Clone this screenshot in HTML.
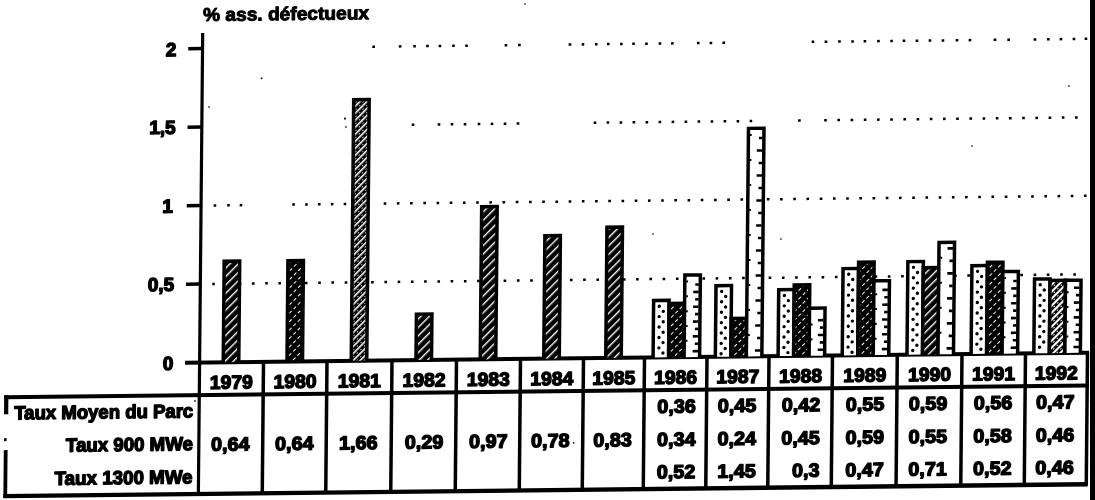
<!DOCTYPE html>
<html><head><meta charset="utf-8"><title>% ass. défectueux</title>
<style>html,body{margin:0;padding:0;background:#fff;overflow:hidden}svg{display:block;filter:grayscale(1)}text{-webkit-font-smoothing:antialiased;text-rendering:geometricPrecision}</style></head>
<body>
<svg width="1095" height="500" viewBox="0 0 1095 500">
<defs>
<pattern id="hM" patternUnits="userSpaceOnUse" width="6" height="6" patternTransform="rotate(-45)">
<rect width="6" height="6" fill="#000"/><rect x="0" y="0" width="6" height="1.4" fill="#fff"/>
</pattern>
<pattern id="hD" patternUnits="userSpaceOnUse" width="6" height="6" patternTransform="rotate(-45)">
<rect width="6" height="6" fill="#000"/><rect x="0" y="0" width="3.5" height="1" fill="#fff"/>
</pattern>
<pattern id="hL2" patternUnits="userSpaceOnUse" width="5" height="5" patternTransform="rotate(-45)">
<rect width="5" height="5" fill="#000"/><rect x="0" y="0" width="5" height="1.6" fill="#fff"/><rect x="1" y="3" width="1.5" height="0.8" fill="#fff"/>
</pattern>
<pattern id="hL" patternUnits="userSpaceOnUse" width="5" height="5" patternTransform="rotate(-45)">
<rect width="5" height="5" fill="#000"/><rect x="0" y="0" width="5" height="2.1" fill="#fff"/><rect x="1" y="3" width="1.5" height="1" fill="#fff"/>
</pattern>
<pattern id="dotsA" patternUnits="userSpaceOnUse" width="8" height="8">
<rect width="8" height="8" fill="#fff"/><circle cx="2" cy="2.5" r="1.3" fill="#000"/><circle cx="6" cy="6.5" r="1.3" fill="#000"/>
</pattern>
<pattern id="dashC" patternUnits="userSpaceOnUse" width="40" height="12">
<rect width="40" height="12" fill="#fff"/>
</pattern>
</defs>
<rect width="1095" height="500" fill="#fff"/>
<g transform="matrix(1 -0.011 -0.0094 1 3.403 2.200)" font-family="'Liberation Sans', Arial, sans-serif" font-weight="bold" fill="#000" stroke-linejoin="round">
<text x="199.80" y="21.00" font-size="18.5" text-anchor="start" textLength="166.0" lengthAdjust="spacingAndGlyphs" stroke="#000" stroke-width="1.0">% ass. défectueux</text>
<text x="173.50" y="55.80" font-size="19" text-anchor="end" stroke="#000" stroke-width="1.4">2</text>
<text x="173.50" y="133.50" font-size="19" text-anchor="end" stroke="#000" stroke-width="1.4">1,5</text>
<text x="171.50" y="212.40" font-size="19" text-anchor="end" stroke="#000" stroke-width="1.4">1</text>
<text x="173.50" y="290.60" font-size="19" text-anchor="end" stroke="#000" stroke-width="1.4">0,5</text>
<text x="173.50" y="369.70" font-size="19" text-anchor="end" stroke="#000" stroke-width="1.4">0</text>
<rect x="185.30" y="46.75" width="14.00" height="3.50" fill="#000" stroke="none" />
<rect x="185.30" y="125.25" width="14.00" height="3.50" fill="#000" stroke="none" />
<rect x="185.30" y="203.75" width="14.00" height="3.50" fill="#000" stroke="none" />
<rect x="185.30" y="282.25" width="14.00" height="3.50" fill="#000" stroke="none" />
<rect x="198.00" y="33.00" width="3.20" height="462.00" fill="#000" stroke="none" />
<rect x="185.00" y="360.50" width="904.00" height="4.00" fill="#000" stroke="none" />
<rect x="4.50" y="393.20" width="1084.50" height="4.00" fill="#000" stroke="none" />
<rect x="4.50" y="491.80" width="1084.50" height="4.40" fill="#000" stroke="none" />
<rect x="4.50" y="393.20" width="4.20" height="19.00" fill="#000" stroke="none" />
<rect x="4.80" y="436.00" width="2.50" height="3.00" fill="#000" stroke="none" />
<rect x="4.60" y="448.00" width="3.80" height="47.50" fill="#000" stroke="none" />
<rect x="261.75" y="362.00" width="3.50" height="133.00" fill="#000" stroke="none" />
<rect x="325.25" y="362.00" width="3.50" height="133.00" fill="#000" stroke="none" />
<rect x="390.25" y="362.00" width="3.50" height="133.00" fill="#000" stroke="none" />
<rect x="454.75" y="362.00" width="3.50" height="133.00" fill="#000" stroke="none" />
<rect x="518.75" y="362.00" width="3.50" height="133.00" fill="#000" stroke="none" />
<rect x="581.75" y="362.00" width="3.50" height="133.00" fill="#000" stroke="none" />
<rect x="642.75" y="362.00" width="3.50" height="133.00" fill="#000" stroke="none" />
<rect x="705.25" y="362.00" width="3.50" height="133.00" fill="#000" stroke="none" />
<rect x="767.25" y="362.00" width="3.50" height="133.00" fill="#000" stroke="none" />
<rect x="830.75" y="362.00" width="3.50" height="133.00" fill="#000" stroke="none" />
<rect x="895.55" y="362.00" width="3.50" height="133.00" fill="#000" stroke="none" />
<rect x="960.25" y="362.00" width="3.50" height="133.00" fill="#000" stroke="none" />
<rect x="1023.75" y="362.00" width="3.50" height="133.00" fill="#000" stroke="none" />
<rect x="1085.75" y="362.00" width="3.50" height="133.00" fill="#000" stroke="none" />
<g fill="#000"><rect x="369.4" y="47.3" width="2.6" height="2.5"/><rect x="395.9" y="47.3" width="2.6" height="2.5"/><rect x="410.3" y="47.3" width="2.6" height="2.5"/><rect x="423.2" y="47.3" width="2.6" height="2.5"/><rect x="435.7" y="47.3" width="2.6" height="2.5"/><rect x="449.2" y="47.3" width="2.6" height="2.5"/><rect x="462.3" y="47.3" width="2.6" height="2.5"/><rect x="501.7" y="47.3" width="2.6" height="2.5"/><rect x="515.2" y="47.3" width="2.6" height="2.5"/><rect x="565.7" y="47.3" width="2.6" height="2.5"/><rect x="578.7" y="47.3" width="2.6" height="2.5"/><rect x="592.0" y="47.3" width="2.6" height="2.5"/><rect x="604.0" y="47.3" width="2.6" height="2.5"/><rect x="617.1" y="47.3" width="2.6" height="2.5"/><rect x="629.3" y="47.3" width="2.6" height="2.5"/><rect x="642.2" y="47.3" width="2.6" height="2.5"/><rect x="655.7" y="47.3" width="2.6" height="2.5"/><rect x="668.1" y="47.3" width="2.6" height="2.5"/><rect x="694.0" y="47.3" width="2.6" height="2.5"/><rect x="706.7" y="47.3" width="2.6" height="2.5"/><rect x="719.5" y="47.3" width="2.6" height="2.5"/><rect x="808.7" y="47.3" width="2.6" height="2.5"/><rect x="821.7" y="47.3" width="2.6" height="2.5"/><rect x="835.2" y="47.3" width="2.6" height="2.5"/><rect x="848.3" y="47.3" width="2.6" height="2.5"/><rect x="860.7" y="47.3" width="2.6" height="2.5"/><rect x="874.2" y="47.3" width="2.6" height="2.5"/><rect x="887.3" y="47.3" width="2.6" height="2.5"/><rect x="899.7" y="47.3" width="2.6" height="2.5"/><rect x="912.7" y="47.3" width="2.6" height="2.5"/><rect x="925.7" y="47.3" width="2.6" height="2.5"/><rect x="938.7" y="47.3" width="2.6" height="2.5"/><rect x="952.7" y="47.3" width="2.6" height="2.5"/><rect x="965.7" y="47.3" width="2.6" height="2.5"/><rect x="990.7" y="47.3" width="2.6" height="2.5"/><rect x="1004.4" y="47.3" width="2.6" height="2.5"/><rect x="1030.7" y="47.3" width="2.6" height="2.5"/><rect x="1044.1" y="47.3" width="2.6" height="2.5"/><rect x="1056.7" y="47.3" width="2.6" height="2.5"/><rect x="1069.7" y="47.3" width="2.6" height="2.5"/><rect x="1081.7" y="47.3" width="2.6" height="2.5"/></g>
<g fill="#000"><rect x="409.5" y="125.8" width="2.6" height="2.5"/><rect x="435.5" y="125.8" width="2.6" height="2.5"/><rect x="448.5" y="125.8" width="2.6" height="2.5"/><rect x="461.5" y="125.8" width="2.6" height="2.5"/><rect x="475.5" y="125.8" width="2.6" height="2.5"/><rect x="488.5" y="125.8" width="2.6" height="2.5"/><rect x="501.5" y="125.8" width="2.6" height="2.5"/><rect x="514.5" y="125.8" width="2.6" height="2.5"/><rect x="591.5" y="125.8" width="2.6" height="2.5"/><rect x="604.4" y="125.8" width="2.6" height="2.5"/><rect x="617.4" y="125.8" width="2.6" height="2.5"/><rect x="630.4" y="125.8" width="2.6" height="2.5"/><rect x="643.4" y="125.8" width="2.6" height="2.5"/><rect x="656.4" y="125.8" width="2.6" height="2.5"/><rect x="669.4" y="125.8" width="2.6" height="2.5"/><rect x="682.4" y="125.8" width="2.6" height="2.5"/><rect x="695.4" y="125.8" width="2.6" height="2.5"/><rect x="708.4" y="125.8" width="2.6" height="2.5"/><rect x="721.4" y="125.8" width="2.6" height="2.5"/><rect x="734.4" y="125.8" width="2.6" height="2.5"/><rect x="747.4" y="125.8" width="2.6" height="2.5"/><rect x="795.9" y="125.8" width="2.6" height="2.5"/><rect x="822.0" y="125.8" width="2.6" height="2.5"/><rect x="835.2" y="125.8" width="2.6" height="2.5"/><rect x="848.4" y="125.8" width="2.6" height="2.5"/><rect x="861.6" y="125.8" width="2.6" height="2.5"/><rect x="874.8" y="125.8" width="2.6" height="2.5"/><rect x="888.0" y="125.8" width="2.6" height="2.5"/><rect x="901.2" y="125.8" width="2.6" height="2.5"/><rect x="914.4" y="125.8" width="2.6" height="2.5"/><rect x="927.6" y="125.8" width="2.6" height="2.5"/><rect x="940.8" y="125.8" width="2.6" height="2.5"/><rect x="954.0" y="125.8" width="2.6" height="2.5"/><rect x="967.2" y="125.8" width="2.6" height="2.5"/><rect x="980.4" y="125.8" width="2.6" height="2.5"/><rect x="993.6" y="125.8" width="2.6" height="2.5"/><rect x="1006.8" y="125.8" width="2.6" height="2.5"/><rect x="1020.0" y="125.8" width="2.6" height="2.5"/><rect x="1033.2" y="125.8" width="2.6" height="2.5"/><rect x="1046.4" y="125.8" width="2.6" height="2.5"/><rect x="1059.6" y="125.8" width="2.6" height="2.5"/><rect x="1072.8" y="125.8" width="2.6" height="2.5"/></g>
<g fill="#000"><rect x="212.2" y="204.3" width="2.6" height="2.5"/><rect x="225.7" y="204.3" width="2.6" height="2.5"/><rect x="238.2" y="204.3" width="2.6" height="2.5"/><rect x="290.8" y="204.3" width="2.6" height="2.5"/><rect x="303.7" y="204.3" width="2.6" height="2.5"/><rect x="316.5" y="204.3" width="2.6" height="2.5"/><rect x="329.4" y="204.3" width="2.6" height="2.5"/><rect x="342.2" y="204.3" width="2.6" height="2.5"/><rect x="382.2" y="204.3" width="2.6" height="2.5"/><rect x="395.4" y="204.3" width="2.6" height="2.5"/><rect x="408.6" y="204.3" width="2.6" height="2.5"/><rect x="421.9" y="204.3" width="2.6" height="2.5"/><rect x="435.1" y="204.3" width="2.6" height="2.5"/><rect x="448.3" y="204.3" width="2.6" height="2.5"/><rect x="461.5" y="204.3" width="2.6" height="2.5"/><rect x="474.7" y="204.3" width="2.6" height="2.5"/><rect x="487.9" y="204.3" width="2.6" height="2.5"/><rect x="501.1" y="204.3" width="2.6" height="2.5"/><rect x="514.3" y="204.3" width="2.6" height="2.5"/><rect x="527.6" y="204.3" width="2.6" height="2.5"/><rect x="540.8" y="204.3" width="2.6" height="2.5"/><rect x="554.0" y="204.3" width="2.6" height="2.5"/><rect x="567.2" y="204.3" width="2.6" height="2.5"/><rect x="580.4" y="204.3" width="2.6" height="2.5"/><rect x="593.6" y="204.3" width="2.6" height="2.5"/><rect x="606.8" y="204.3" width="2.6" height="2.5"/><rect x="620.1" y="204.3" width="2.6" height="2.5"/><rect x="633.3" y="204.3" width="2.6" height="2.5"/><rect x="646.5" y="204.3" width="2.6" height="2.5"/><rect x="659.7" y="204.3" width="2.6" height="2.5"/><rect x="672.9" y="204.3" width="2.6" height="2.5"/><rect x="686.1" y="204.3" width="2.6" height="2.5"/><rect x="699.3" y="204.3" width="2.6" height="2.5"/><rect x="712.6" y="204.3" width="2.6" height="2.5"/><rect x="725.8" y="204.3" width="2.6" height="2.5"/><rect x="739.0" y="204.3" width="2.6" height="2.5"/><rect x="765.4" y="204.3" width="2.6" height="2.5"/><rect x="778.6" y="204.3" width="2.6" height="2.5"/><rect x="791.8" y="204.3" width="2.6" height="2.5"/><rect x="805.0" y="204.3" width="2.6" height="2.5"/><rect x="818.3" y="204.3" width="2.6" height="2.5"/><rect x="831.5" y="204.3" width="2.6" height="2.5"/><rect x="844.7" y="204.3" width="2.6" height="2.5"/><rect x="857.9" y="204.3" width="2.6" height="2.5"/><rect x="871.1" y="204.3" width="2.6" height="2.5"/><rect x="884.3" y="204.3" width="2.6" height="2.5"/><rect x="897.5" y="204.3" width="2.6" height="2.5"/><rect x="910.8" y="204.3" width="2.6" height="2.5"/><rect x="924.0" y="204.3" width="2.6" height="2.5"/><rect x="937.2" y="204.3" width="2.6" height="2.5"/><rect x="950.4" y="204.3" width="2.6" height="2.5"/><rect x="963.6" y="204.3" width="2.6" height="2.5"/><rect x="976.8" y="204.3" width="2.6" height="2.5"/><rect x="990.0" y="204.3" width="2.6" height="2.5"/><rect x="1003.3" y="204.3" width="2.6" height="2.5"/><rect x="1016.5" y="204.3" width="2.6" height="2.5"/><rect x="1029.7" y="204.3" width="2.6" height="2.5"/><rect x="1042.9" y="204.3" width="2.6" height="2.5"/><rect x="1056.1" y="204.3" width="2.6" height="2.5"/><rect x="1069.3" y="204.3" width="2.6" height="2.5"/><rect x="1082.5" y="204.3" width="2.6" height="2.5"/></g>
<g fill="#000"><rect x="211.5" y="282.8" width="2.6" height="2.5"/><rect x="224.7" y="282.8" width="2.6" height="2.5"/><rect x="238.0" y="282.8" width="2.6" height="2.5"/><rect x="251.2" y="282.8" width="2.6" height="2.5"/><rect x="264.5" y="282.8" width="2.6" height="2.5"/><rect x="277.7" y="282.8" width="2.6" height="2.5"/><rect x="291.0" y="282.8" width="2.6" height="2.5"/><rect x="304.2" y="282.8" width="2.6" height="2.5"/><rect x="317.5" y="282.8" width="2.6" height="2.5"/><rect x="330.7" y="282.8" width="2.6" height="2.5"/><rect x="344.0" y="282.8" width="2.6" height="2.5"/><rect x="357.2" y="282.8" width="2.6" height="2.5"/><rect x="370.4" y="282.8" width="2.6" height="2.5"/><rect x="383.7" y="282.8" width="2.6" height="2.5"/><rect x="396.9" y="282.8" width="2.6" height="2.5"/><rect x="410.2" y="282.8" width="2.6" height="2.5"/><rect x="423.4" y="282.8" width="2.6" height="2.5"/><rect x="436.7" y="282.8" width="2.6" height="2.5"/><rect x="449.9" y="282.8" width="2.6" height="2.5"/><rect x="463.2" y="282.8" width="2.6" height="2.5"/><rect x="476.4" y="282.8" width="2.6" height="2.5"/><rect x="489.7" y="282.8" width="2.6" height="2.5"/><rect x="502.9" y="282.8" width="2.6" height="2.5"/><rect x="516.2" y="282.8" width="2.6" height="2.5"/><rect x="529.4" y="282.8" width="2.6" height="2.5"/><rect x="542.7" y="282.8" width="2.6" height="2.5"/><rect x="555.9" y="282.8" width="2.6" height="2.5"/><rect x="569.2" y="282.8" width="2.6" height="2.5"/><rect x="582.4" y="282.8" width="2.6" height="2.5"/><rect x="595.7" y="282.8" width="2.6" height="2.5"/><rect x="608.9" y="282.8" width="2.6" height="2.5"/><rect x="622.2" y="282.8" width="2.6" height="2.5"/><rect x="635.4" y="282.8" width="2.6" height="2.5"/><rect x="648.7" y="282.8" width="2.6" height="2.5"/><rect x="661.9" y="282.8" width="2.6" height="2.5"/><rect x="675.2" y="282.8" width="2.6" height="2.5"/><rect x="688.4" y="282.8" width="2.6" height="2.5"/><rect x="701.7" y="282.8" width="2.6" height="2.5"/><rect x="714.9" y="282.8" width="2.6" height="2.5"/><rect x="728.2" y="282.8" width="2.6" height="2.5"/><rect x="741.4" y="282.8" width="2.6" height="2.5"/><rect x="754.7" y="282.8" width="2.6" height="2.5"/><rect x="767.9" y="282.8" width="2.6" height="2.5"/><rect x="781.2" y="282.8" width="2.6" height="2.5"/><rect x="794.4" y="282.8" width="2.6" height="2.5"/><rect x="807.7" y="282.8" width="2.6" height="2.5"/><rect x="820.9" y="282.8" width="2.6" height="2.5"/><rect x="834.2" y="282.8" width="2.6" height="2.5"/><rect x="847.4" y="282.8" width="2.6" height="2.5"/><rect x="860.6" y="282.8" width="2.6" height="2.5"/><rect x="873.9" y="282.8" width="2.6" height="2.5"/><rect x="887.1" y="282.8" width="2.6" height="2.5"/><rect x="900.4" y="282.8" width="2.6" height="2.5"/><rect x="913.6" y="282.8" width="2.6" height="2.5"/><rect x="926.9" y="282.8" width="2.6" height="2.5"/><rect x="940.1" y="282.8" width="2.6" height="2.5"/><rect x="953.4" y="282.8" width="2.6" height="2.5"/><rect x="966.6" y="282.8" width="2.6" height="2.5"/><rect x="979.9" y="282.8" width="2.6" height="2.5"/><rect x="993.1" y="282.8" width="2.6" height="2.5"/><rect x="1006.4" y="282.8" width="2.6" height="2.5"/><rect x="1019.6" y="282.8" width="2.6" height="2.5"/><rect x="1032.9" y="282.8" width="2.6" height="2.5"/><rect x="1046.1" y="282.8" width="2.6" height="2.5"/><rect x="1059.4" y="282.8" width="2.6" height="2.5"/><rect x="1072.6" y="282.8" width="2.6" height="2.5"/></g>
<rect x="221.50" y="259.82" width="19.00" height="102.68" fill="#000" stroke="none" />
<rect x="225.00" y="263.32" width="12.00" height="99.18" fill="url(#hM)"/>
<rect x="285.25" y="259.82" width="19.00" height="102.68" fill="#000" stroke="none" />
<rect x="288.75" y="263.32" width="12.00" height="99.18" fill="url(#hD)"/>
<rect x="349.50" y="99.68" width="19.00" height="262.82" fill="#000" stroke="none" />
<rect x="353.00" y="103.18" width="12.00" height="259.32" fill="url(#hL2)"/>
<rect x="414.25" y="314.77" width="19.00" height="47.73" fill="#000" stroke="none" />
<rect x="417.75" y="318.27" width="12.00" height="44.23" fill="url(#hM)"/>
<rect x="478.50" y="208.01" width="19.00" height="154.49" fill="#000" stroke="none" />
<rect x="482.00" y="211.51" width="12.00" height="150.99" fill="url(#hM)"/>
<rect x="542.00" y="237.84" width="19.00" height="124.66" fill="#000" stroke="none" />
<rect x="545.50" y="241.34" width="12.00" height="121.16" fill="url(#hM)"/>
<rect x="604.00" y="229.99" width="19.00" height="132.51" fill="#000" stroke="none" />
<rect x="607.50" y="233.49" width="12.00" height="129.01" fill="url(#hM)"/>
<rect x="651.35" y="303.78" width="19.00" height="58.72" fill="#000" stroke="none" />
<rect x="654.85" y="307.28" width="12.00" height="55.22" fill="#fff"/>
<g fill="#000"><circle cx="658.81" cy="311.28" r="1.7"/><circle cx="662.89" cy="316.48" r="1.7"/><circle cx="658.81" cy="321.68" r="1.7"/><circle cx="662.89" cy="326.88" r="1.7"/><circle cx="658.81" cy="332.08" r="1.7"/><circle cx="662.89" cy="337.28" r="1.7"/><circle cx="658.81" cy="342.48" r="1.7"/><circle cx="662.89" cy="347.68" r="1.7"/><circle cx="658.81" cy="352.88" r="1.7"/><circle cx="662.89" cy="358.08" r="1.7"/></g>
<rect x="666.85" y="306.92" width="19.00" height="55.58" fill="#000" stroke="none" />
<rect x="670.35" y="310.42" width="12.00" height="52.08" fill="url(#hD)"/>
<rect x="682.35" y="278.66" width="19.00" height="83.84" fill="#000" stroke="none" />
<rect x="685.85" y="282.16" width="12.00" height="80.34" fill="#fff"/>
<rect x="692.65" y="355.30" width="5.50" height="2.60" fill="#000" stroke="none" />
<rect x="694.65" y="347.90" width="3.50" height="2.60" fill="#000" stroke="none" />
<rect x="685.55" y="345.10" width="1.80" height="2.00" fill="#000" stroke="none" />
<rect x="692.65" y="340.50" width="5.50" height="2.60" fill="#000" stroke="none" />
<rect x="694.65" y="333.10" width="3.50" height="2.60" fill="#000" stroke="none" />
<rect x="685.55" y="330.30" width="1.80" height="2.00" fill="#000" stroke="none" />
<rect x="692.65" y="325.70" width="5.50" height="2.60" fill="#000" stroke="none" />
<rect x="694.65" y="318.30" width="3.50" height="2.60" fill="#000" stroke="none" />
<rect x="685.55" y="315.50" width="1.80" height="2.00" fill="#000" stroke="none" />
<rect x="692.65" y="310.90" width="5.50" height="2.60" fill="#000" stroke="none" />
<rect x="694.65" y="303.50" width="3.50" height="2.60" fill="#000" stroke="none" />
<rect x="685.55" y="300.70" width="1.80" height="2.00" fill="#000" stroke="none" />
<rect x="692.65" y="296.10" width="5.50" height="2.60" fill="#000" stroke="none" />
<rect x="694.65" y="288.70" width="3.50" height="2.60" fill="#000" stroke="none" />
<rect x="685.55" y="285.90" width="1.80" height="2.00" fill="#000" stroke="none" />
<rect x="713.60" y="289.65" width="19.00" height="72.85" fill="#000" stroke="none" />
<rect x="717.10" y="293.15" width="12.00" height="69.35" fill="#fff"/>
<g fill="#000"><circle cx="721.06" cy="297.15" r="1.7"/><circle cx="725.14" cy="302.35" r="1.7"/><circle cx="721.06" cy="307.55" r="1.7"/><circle cx="725.14" cy="312.75" r="1.7"/><circle cx="721.06" cy="317.95" r="1.7"/><circle cx="725.14" cy="323.15" r="1.7"/><circle cx="721.06" cy="328.35" r="1.7"/><circle cx="725.14" cy="333.55" r="1.7"/><circle cx="721.06" cy="338.75" r="1.7"/><circle cx="725.14" cy="343.95" r="1.7"/><circle cx="721.06" cy="349.15" r="1.7"/><circle cx="725.14" cy="354.35" r="1.7"/><circle cx="721.06" cy="359.55" r="1.7"/></g>
<rect x="729.10" y="322.62" width="19.00" height="39.88" fill="#000" stroke="none" />
<rect x="732.60" y="326.12" width="12.00" height="36.38" fill="url(#hD)"/>
<rect x="744.60" y="132.65" width="19.00" height="229.85" fill="#000" stroke="none" />
<rect x="748.10" y="136.15" width="12.00" height="226.35" fill="#fff"/>
<rect x="754.90" y="355.30" width="5.50" height="2.60" fill="#000" stroke="none" />
<rect x="756.90" y="342.80" width="3.50" height="2.60" fill="#000" stroke="none" />
<rect x="747.80" y="340.00" width="1.80" height="2.00" fill="#000" stroke="none" />
<rect x="754.90" y="330.30" width="5.50" height="2.60" fill="#000" stroke="none" />
<rect x="756.90" y="317.80" width="3.50" height="2.60" fill="#000" stroke="none" />
<rect x="747.80" y="315.00" width="1.80" height="2.00" fill="#000" stroke="none" />
<rect x="754.90" y="305.30" width="5.50" height="2.60" fill="#000" stroke="none" />
<rect x="756.90" y="292.80" width="3.50" height="2.60" fill="#000" stroke="none" />
<rect x="747.80" y="290.00" width="1.80" height="2.00" fill="#000" stroke="none" />
<rect x="754.90" y="280.30" width="5.50" height="2.60" fill="#000" stroke="none" />
<rect x="756.90" y="267.80" width="3.50" height="2.60" fill="#000" stroke="none" />
<rect x="747.80" y="265.00" width="1.80" height="2.00" fill="#000" stroke="none" />
<rect x="754.90" y="255.30" width="5.50" height="2.60" fill="#000" stroke="none" />
<rect x="756.90" y="242.80" width="3.50" height="2.60" fill="#000" stroke="none" />
<rect x="747.80" y="240.00" width="1.80" height="2.00" fill="#000" stroke="none" />
<rect x="754.90" y="230.30" width="5.50" height="2.60" fill="#000" stroke="none" />
<rect x="756.90" y="217.80" width="3.50" height="2.60" fill="#000" stroke="none" />
<rect x="747.80" y="215.00" width="1.80" height="2.00" fill="#000" stroke="none" />
<rect x="754.90" y="205.30" width="5.50" height="2.60" fill="#000" stroke="none" />
<rect x="756.90" y="192.80" width="3.50" height="2.60" fill="#000" stroke="none" />
<rect x="747.80" y="190.00" width="1.80" height="2.00" fill="#000" stroke="none" />
<rect x="754.90" y="180.30" width="5.50" height="2.60" fill="#000" stroke="none" />
<rect x="756.90" y="167.80" width="3.50" height="2.60" fill="#000" stroke="none" />
<rect x="747.80" y="165.00" width="1.80" height="2.00" fill="#000" stroke="none" />
<rect x="754.90" y="155.30" width="5.50" height="2.60" fill="#000" stroke="none" />
<rect x="756.90" y="142.80" width="3.50" height="2.60" fill="#000" stroke="none" />
<rect x="747.80" y="140.00" width="1.80" height="2.00" fill="#000" stroke="none" />
<rect x="776.35" y="294.36" width="19.00" height="68.14" fill="#000" stroke="none" />
<rect x="779.85" y="297.86" width="12.00" height="64.64" fill="#fff"/>
<g fill="#000"><circle cx="783.81" cy="301.86" r="1.7"/><circle cx="787.89" cy="307.06" r="1.7"/><circle cx="783.81" cy="312.26" r="1.7"/><circle cx="787.89" cy="317.46" r="1.7"/><circle cx="783.81" cy="322.66" r="1.7"/><circle cx="787.89" cy="327.86" r="1.7"/><circle cx="783.81" cy="333.06" r="1.7"/><circle cx="787.89" cy="338.26" r="1.7"/><circle cx="783.81" cy="343.46" r="1.7"/><circle cx="787.89" cy="348.66" r="1.7"/><circle cx="783.81" cy="353.86" r="1.7"/><circle cx="787.89" cy="359.06" r="1.7"/></g>
<rect x="791.85" y="289.65" width="19.00" height="72.85" fill="#000" stroke="none" />
<rect x="795.35" y="293.15" width="12.00" height="69.35" fill="url(#hD)"/>
<rect x="807.35" y="313.20" width="19.00" height="49.30" fill="#000" stroke="none" />
<rect x="810.85" y="316.70" width="12.00" height="45.80" fill="#fff"/>
<rect x="817.65" y="355.30" width="5.50" height="2.60" fill="#000" stroke="none" />
<rect x="819.65" y="347.90" width="3.50" height="2.60" fill="#000" stroke="none" />
<rect x="810.55" y="345.10" width="1.80" height="2.00" fill="#000" stroke="none" />
<rect x="817.65" y="340.50" width="5.50" height="2.60" fill="#000" stroke="none" />
<rect x="819.65" y="333.10" width="3.50" height="2.60" fill="#000" stroke="none" />
<rect x="810.55" y="330.30" width="1.80" height="2.00" fill="#000" stroke="none" />
<rect x="817.65" y="325.70" width="5.50" height="2.60" fill="#000" stroke="none" />
<rect x="840.50" y="273.95" width="19.00" height="88.55" fill="#000" stroke="none" />
<rect x="844.00" y="277.45" width="12.00" height="85.05" fill="#fff"/>
<g fill="#000"><circle cx="847.96" cy="281.45" r="1.7"/><circle cx="852.04" cy="286.65" r="1.7"/><circle cx="847.96" cy="291.85" r="1.7"/><circle cx="852.04" cy="297.05" r="1.7"/><circle cx="847.96" cy="302.25" r="1.7"/><circle cx="852.04" cy="307.45" r="1.7"/><circle cx="847.96" cy="312.65" r="1.7"/><circle cx="852.04" cy="317.85" r="1.7"/><circle cx="847.96" cy="323.05" r="1.7"/><circle cx="852.04" cy="328.25" r="1.7"/><circle cx="847.96" cy="333.45" r="1.7"/><circle cx="852.04" cy="338.65" r="1.7"/><circle cx="847.96" cy="343.85" r="1.7"/><circle cx="852.04" cy="349.05" r="1.7"/><circle cx="847.96" cy="354.25" r="1.7"/><circle cx="852.04" cy="359.45" r="1.7"/></g>
<rect x="856.00" y="267.67" width="19.00" height="94.83" fill="#000" stroke="none" />
<rect x="859.50" y="271.17" width="12.00" height="91.33" fill="url(#hD)"/>
<rect x="871.50" y="286.51" width="19.00" height="75.99" fill="#000" stroke="none" />
<rect x="875.00" y="290.01" width="12.00" height="72.49" fill="#fff"/>
<rect x="881.80" y="355.30" width="5.50" height="2.60" fill="#000" stroke="none" />
<rect x="883.80" y="347.90" width="3.50" height="2.60" fill="#000" stroke="none" />
<rect x="874.70" y="345.10" width="1.80" height="2.00" fill="#000" stroke="none" />
<rect x="881.80" y="340.50" width="5.50" height="2.60" fill="#000" stroke="none" />
<rect x="883.80" y="333.10" width="3.50" height="2.60" fill="#000" stroke="none" />
<rect x="874.70" y="330.30" width="1.80" height="2.00" fill="#000" stroke="none" />
<rect x="881.80" y="325.70" width="5.50" height="2.60" fill="#000" stroke="none" />
<rect x="883.80" y="318.30" width="3.50" height="2.60" fill="#000" stroke="none" />
<rect x="874.70" y="315.50" width="1.80" height="2.00" fill="#000" stroke="none" />
<rect x="881.80" y="310.90" width="5.50" height="2.60" fill="#000" stroke="none" />
<rect x="883.80" y="303.50" width="3.50" height="2.60" fill="#000" stroke="none" />
<rect x="874.70" y="300.70" width="1.80" height="2.00" fill="#000" stroke="none" />
<rect x="881.80" y="296.10" width="5.50" height="2.60" fill="#000" stroke="none" />
<rect x="905.25" y="267.67" width="19.00" height="94.83" fill="#000" stroke="none" />
<rect x="908.75" y="271.17" width="12.00" height="91.33" fill="#fff"/>
<g fill="#000"><circle cx="912.71" cy="275.17" r="1.7"/><circle cx="916.79" cy="280.37" r="1.7"/><circle cx="912.71" cy="285.57" r="1.7"/><circle cx="916.79" cy="290.77" r="1.7"/><circle cx="912.71" cy="295.97" r="1.7"/><circle cx="916.79" cy="301.17" r="1.7"/><circle cx="912.71" cy="306.37" r="1.7"/><circle cx="916.79" cy="311.57" r="1.7"/><circle cx="912.71" cy="316.77" r="1.7"/><circle cx="916.79" cy="321.97" r="1.7"/><circle cx="912.71" cy="327.17" r="1.7"/><circle cx="916.79" cy="332.37" r="1.7"/><circle cx="912.71" cy="337.57" r="1.7"/><circle cx="916.79" cy="342.77" r="1.7"/><circle cx="912.71" cy="347.97" r="1.7"/><circle cx="916.79" cy="353.17" r="1.7"/><circle cx="912.71" cy="358.37" r="1.7"/></g>
<rect x="920.75" y="273.95" width="19.00" height="88.55" fill="#000" stroke="none" />
<rect x="924.25" y="277.45" width="12.00" height="85.05" fill="url(#hM)"/>
<rect x="936.25" y="248.83" width="19.00" height="113.67" fill="#000" stroke="none" />
<rect x="939.75" y="252.33" width="12.00" height="110.17" fill="#fff"/>
<rect x="946.55" y="355.30" width="5.50" height="2.60" fill="#000" stroke="none" />
<rect x="948.55" y="342.80" width="3.50" height="2.60" fill="#000" stroke="none" />
<rect x="939.45" y="340.00" width="1.80" height="2.00" fill="#000" stroke="none" />
<rect x="946.55" y="330.30" width="5.50" height="2.60" fill="#000" stroke="none" />
<rect x="948.55" y="317.80" width="3.50" height="2.60" fill="#000" stroke="none" />
<rect x="939.45" y="315.00" width="1.80" height="2.00" fill="#000" stroke="none" />
<rect x="946.55" y="305.30" width="5.50" height="2.60" fill="#000" stroke="none" />
<rect x="948.55" y="292.80" width="3.50" height="2.60" fill="#000" stroke="none" />
<rect x="939.45" y="290.00" width="1.80" height="2.00" fill="#000" stroke="none" />
<rect x="946.55" y="280.30" width="5.50" height="2.60" fill="#000" stroke="none" />
<rect x="948.55" y="267.80" width="3.50" height="2.60" fill="#000" stroke="none" />
<rect x="939.45" y="265.00" width="1.80" height="2.00" fill="#000" stroke="none" />
<rect x="946.55" y="255.30" width="5.50" height="2.60" fill="#000" stroke="none" />
<rect x="969.35" y="272.38" width="19.00" height="90.12" fill="#000" stroke="none" />
<rect x="972.85" y="275.88" width="12.00" height="86.62" fill="#fff"/>
<g fill="#000"><circle cx="976.81" cy="279.88" r="1.7"/><circle cx="980.89" cy="285.08" r="1.7"/><circle cx="976.81" cy="290.28" r="1.7"/><circle cx="980.89" cy="295.48" r="1.7"/><circle cx="976.81" cy="300.68" r="1.7"/><circle cx="980.89" cy="305.88" r="1.7"/><circle cx="976.81" cy="311.08" r="1.7"/><circle cx="980.89" cy="316.28" r="1.7"/><circle cx="976.81" cy="321.48" r="1.7"/><circle cx="980.89" cy="326.68" r="1.7"/><circle cx="976.81" cy="331.88" r="1.7"/><circle cx="980.89" cy="337.08" r="1.7"/><circle cx="976.81" cy="342.28" r="1.7"/><circle cx="980.89" cy="347.48" r="1.7"/><circle cx="976.81" cy="352.68" r="1.7"/><circle cx="980.89" cy="357.88" r="1.7"/></g>
<rect x="984.85" y="269.24" width="19.00" height="93.26" fill="#000" stroke="none" />
<rect x="988.35" y="272.74" width="12.00" height="89.76" fill="url(#hD)"/>
<rect x="1000.35" y="278.66" width="19.00" height="83.84" fill="#000" stroke="none" />
<rect x="1003.85" y="282.16" width="12.00" height="80.34" fill="#fff"/>
<rect x="1010.65" y="355.30" width="5.50" height="2.60" fill="#000" stroke="none" />
<rect x="1012.65" y="347.90" width="3.50" height="2.60" fill="#000" stroke="none" />
<rect x="1003.55" y="345.10" width="1.80" height="2.00" fill="#000" stroke="none" />
<rect x="1010.65" y="340.50" width="5.50" height="2.60" fill="#000" stroke="none" />
<rect x="1012.65" y="333.10" width="3.50" height="2.60" fill="#000" stroke="none" />
<rect x="1003.55" y="330.30" width="1.80" height="2.00" fill="#000" stroke="none" />
<rect x="1010.65" y="325.70" width="5.50" height="2.60" fill="#000" stroke="none" />
<rect x="1012.65" y="318.30" width="3.50" height="2.60" fill="#000" stroke="none" />
<rect x="1003.55" y="315.50" width="1.80" height="2.00" fill="#000" stroke="none" />
<rect x="1010.65" y="310.90" width="5.50" height="2.60" fill="#000" stroke="none" />
<rect x="1012.65" y="303.50" width="3.50" height="2.60" fill="#000" stroke="none" />
<rect x="1003.55" y="300.70" width="1.80" height="2.00" fill="#000" stroke="none" />
<rect x="1010.65" y="296.10" width="5.50" height="2.60" fill="#000" stroke="none" />
<rect x="1012.65" y="288.70" width="3.50" height="2.60" fill="#000" stroke="none" />
<rect x="1003.55" y="285.90" width="1.80" height="2.00" fill="#000" stroke="none" />
<rect x="1032.10" y="286.51" width="19.00" height="75.99" fill="#000" stroke="none" />
<rect x="1035.60" y="290.01" width="12.00" height="72.49" fill="#fff"/>
<g fill="#000"><circle cx="1039.56" cy="294.01" r="1.7"/><circle cx="1043.64" cy="299.21" r="1.7"/><circle cx="1039.56" cy="304.41" r="1.7"/><circle cx="1043.64" cy="309.61" r="1.7"/><circle cx="1039.56" cy="314.81" r="1.7"/><circle cx="1043.64" cy="320.01" r="1.7"/><circle cx="1039.56" cy="325.21" r="1.7"/><circle cx="1043.64" cy="330.41" r="1.7"/><circle cx="1039.56" cy="335.61" r="1.7"/><circle cx="1043.64" cy="340.81" r="1.7"/><circle cx="1039.56" cy="346.01" r="1.7"/><circle cx="1043.64" cy="351.21" r="1.7"/><circle cx="1039.56" cy="356.41" r="1.7"/></g>
<rect x="1047.60" y="288.08" width="19.00" height="74.42" fill="#000" stroke="none" />
<rect x="1051.10" y="291.58" width="12.00" height="70.92" fill="url(#hL)"/>
<rect x="1063.10" y="288.08" width="19.00" height="74.42" fill="#000" stroke="none" />
<rect x="1066.60" y="291.58" width="12.00" height="70.92" fill="#fff"/>
<rect x="1073.40" y="355.30" width="5.50" height="2.60" fill="#000" stroke="none" />
<rect x="1075.40" y="347.90" width="3.50" height="2.60" fill="#000" stroke="none" />
<rect x="1066.30" y="345.10" width="1.80" height="2.00" fill="#000" stroke="none" />
<rect x="1073.40" y="340.50" width="5.50" height="2.60" fill="#000" stroke="none" />
<rect x="1075.40" y="333.10" width="3.50" height="2.60" fill="#000" stroke="none" />
<rect x="1066.30" y="330.30" width="1.80" height="2.00" fill="#000" stroke="none" />
<rect x="1073.40" y="325.70" width="5.50" height="2.60" fill="#000" stroke="none" />
<rect x="1075.40" y="318.30" width="3.50" height="2.60" fill="#000" stroke="none" />
<rect x="1066.30" y="315.50" width="1.80" height="2.00" fill="#000" stroke="none" />
<rect x="1073.40" y="310.90" width="5.50" height="2.60" fill="#000" stroke="none" />
<rect x="1075.40" y="303.50" width="3.50" height="2.60" fill="#000" stroke="none" />
<rect x="1066.30" y="300.70" width="1.80" height="2.00" fill="#000" stroke="none" />
<rect x="1073.40" y="296.10" width="5.50" height="2.60" fill="#000" stroke="none" />
<text x="231.50" y="389.00" font-size="19" text-anchor="middle" textLength="43.0" lengthAdjust="spacingAndGlyphs" stroke="#000" stroke-width="1.4">1979</text>
<text x="295.25" y="389.00" font-size="19" text-anchor="middle" textLength="43.0" lengthAdjust="spacingAndGlyphs" stroke="#000" stroke-width="1.4">1980</text>
<text x="359.50" y="389.00" font-size="19" text-anchor="middle" textLength="43.0" lengthAdjust="spacingAndGlyphs" stroke="#000" stroke-width="1.4">1981</text>
<text x="424.25" y="389.00" font-size="19" text-anchor="middle" textLength="43.0" lengthAdjust="spacingAndGlyphs" stroke="#000" stroke-width="1.4">1982</text>
<text x="488.50" y="389.00" font-size="19" text-anchor="middle" textLength="43.0" lengthAdjust="spacingAndGlyphs" stroke="#000" stroke-width="1.4">1983</text>
<text x="552.00" y="389.00" font-size="19" text-anchor="middle" textLength="43.0" lengthAdjust="spacingAndGlyphs" stroke="#000" stroke-width="1.4">1984</text>
<text x="614.00" y="389.00" font-size="19" text-anchor="middle" textLength="43.0" lengthAdjust="spacingAndGlyphs" stroke="#000" stroke-width="1.4">1985</text>
<text x="675.75" y="389.00" font-size="19" text-anchor="middle" textLength="43.0" lengthAdjust="spacingAndGlyphs" stroke="#000" stroke-width="1.4">1986</text>
<text x="738.00" y="389.00" font-size="19" text-anchor="middle" textLength="43.0" lengthAdjust="spacingAndGlyphs" stroke="#000" stroke-width="1.4">1987</text>
<text x="800.75" y="389.00" font-size="19" text-anchor="middle" textLength="43.0" lengthAdjust="spacingAndGlyphs" stroke="#000" stroke-width="1.4">1988</text>
<text x="864.90" y="389.00" font-size="19" text-anchor="middle" textLength="43.0" lengthAdjust="spacingAndGlyphs" stroke="#000" stroke-width="1.4">1989</text>
<text x="929.65" y="389.00" font-size="19" text-anchor="middle" textLength="43.0" lengthAdjust="spacingAndGlyphs" stroke="#000" stroke-width="1.4">1990</text>
<text x="993.75" y="389.00" font-size="19" text-anchor="middle" textLength="43.0" lengthAdjust="spacingAndGlyphs" stroke="#000" stroke-width="1.4">1991</text>
<text x="1056.50" y="389.00" font-size="19" text-anchor="middle" textLength="43.0" lengthAdjust="spacingAndGlyphs" stroke="#000" stroke-width="1.4">1992</text>
<text x="193.70" y="417.40" font-size="19" text-anchor="end" textLength="179.0" lengthAdjust="spacingAndGlyphs" stroke="#000" stroke-width="1.4">Taux Moyen du Parc</text>
<text x="193.70" y="450.20" font-size="19" text-anchor="end" textLength="127.0" lengthAdjust="spacingAndGlyphs" stroke="#000" stroke-width="1.4">Taux 900 MWe</text>
<text x="193.70" y="483.30" font-size="19" text-anchor="end" textLength="138.0" lengthAdjust="spacingAndGlyphs" stroke="#000" stroke-width="1.4">Taux 1300 MWe</text>
<text x="250.30" y="451.00" font-size="19" text-anchor="end" textLength="38.5" lengthAdjust="spacingAndGlyphs" stroke="#000" stroke-width="1.4">0,64</text>
<text x="314.30" y="451.00" font-size="19" text-anchor="end" textLength="38.5" lengthAdjust="spacingAndGlyphs" stroke="#000" stroke-width="1.4">0,64</text>
<text x="378.30" y="451.00" font-size="19" text-anchor="end" textLength="38.5" lengthAdjust="spacingAndGlyphs" stroke="#000" stroke-width="1.4">1,66</text>
<text x="444.10" y="451.00" font-size="19" text-anchor="end" textLength="38.5" lengthAdjust="spacingAndGlyphs" stroke="#000" stroke-width="1.4">0,29</text>
<text x="508.30" y="451.00" font-size="19" text-anchor="end" textLength="38.5" lengthAdjust="spacingAndGlyphs" stroke="#000" stroke-width="1.4">0,97</text>
<text x="570.30" y="451.00" font-size="19" text-anchor="end" textLength="38.5" lengthAdjust="spacingAndGlyphs" stroke="#000" stroke-width="1.4">0,78</text>
<text x="632.50" y="451.00" font-size="19" text-anchor="end" textLength="38.5" lengthAdjust="spacingAndGlyphs" stroke="#000" stroke-width="1.4">0,83</text>
<text x="696.30" y="418.00" font-size="19" text-anchor="end" textLength="38.5" lengthAdjust="spacingAndGlyphs" stroke="#000" stroke-width="1.4">0,36</text>
<text x="696.30" y="451.00" font-size="19" text-anchor="end" textLength="38.5" lengthAdjust="spacingAndGlyphs" stroke="#000" stroke-width="1.4">0,34</text>
<text x="696.30" y="483.50" font-size="19" text-anchor="end" textLength="38.5" lengthAdjust="spacingAndGlyphs" stroke="#000" stroke-width="1.4">0,52</text>
<text x="756.90" y="418.00" font-size="19" text-anchor="end" textLength="38.5" lengthAdjust="spacingAndGlyphs" stroke="#000" stroke-width="1.4">0,45</text>
<text x="756.90" y="451.00" font-size="19" text-anchor="end" textLength="38.5" lengthAdjust="spacingAndGlyphs" stroke="#000" stroke-width="1.4">0,24</text>
<text x="756.90" y="483.50" font-size="19" text-anchor="end" textLength="38.5" lengthAdjust="spacingAndGlyphs" stroke="#000" stroke-width="1.4">1,45</text>
<text x="820.70" y="418.00" font-size="19" text-anchor="end" textLength="38.5" lengthAdjust="spacingAndGlyphs" stroke="#000" stroke-width="1.4">0,42</text>
<text x="820.70" y="451.00" font-size="19" text-anchor="end" textLength="38.5" lengthAdjust="spacingAndGlyphs" stroke="#000" stroke-width="1.4">0,45</text>
<text x="820.70" y="483.50" font-size="19" text-anchor="end" textLength="27.5" lengthAdjust="spacingAndGlyphs" stroke="#000" stroke-width="1.4">0,3</text>
<text x="884.90" y="418.00" font-size="19" text-anchor="end" textLength="38.5" lengthAdjust="spacingAndGlyphs" stroke="#000" stroke-width="1.4">0,55</text>
<text x="884.90" y="451.00" font-size="19" text-anchor="end" textLength="38.5" lengthAdjust="spacingAndGlyphs" stroke="#000" stroke-width="1.4">0,59</text>
<text x="884.90" y="483.50" font-size="19" text-anchor="end" textLength="38.5" lengthAdjust="spacingAndGlyphs" stroke="#000" stroke-width="1.4">0,47</text>
<text x="947.90" y="418.00" font-size="19" text-anchor="end" textLength="38.5" lengthAdjust="spacingAndGlyphs" stroke="#000" stroke-width="1.4">0,59</text>
<text x="947.90" y="451.00" font-size="19" text-anchor="end" textLength="38.5" lengthAdjust="spacingAndGlyphs" stroke="#000" stroke-width="1.4">0,55</text>
<text x="947.90" y="483.50" font-size="19" text-anchor="end" textLength="38.5" lengthAdjust="spacingAndGlyphs" stroke="#000" stroke-width="1.4">0,71</text>
<text x="1012.70" y="418.00" font-size="19" text-anchor="end" textLength="38.5" lengthAdjust="spacingAndGlyphs" stroke="#000" stroke-width="1.4">0,56</text>
<text x="1012.70" y="451.00" font-size="19" text-anchor="end" textLength="38.5" lengthAdjust="spacingAndGlyphs" stroke="#000" stroke-width="1.4">0,58</text>
<text x="1012.70" y="483.50" font-size="19" text-anchor="end" textLength="38.5" lengthAdjust="spacingAndGlyphs" stroke="#000" stroke-width="1.4">0,52</text>
<text x="1075.00" y="418.00" font-size="19" text-anchor="end" textLength="38.5" lengthAdjust="spacingAndGlyphs" stroke="#000" stroke-width="1.4">0,47</text>
<text x="1075.00" y="451.00" font-size="19" text-anchor="end" textLength="38.5" lengthAdjust="spacingAndGlyphs" stroke="#000" stroke-width="1.4">0,46</text>
<text x="1075.00" y="483.50" font-size="19" text-anchor="end" textLength="38.5" lengthAdjust="spacingAndGlyphs" stroke="#000" stroke-width="1.4">0,46</text>
<rect x="258.13" y="78.18" width="1.60" height="1.60" fill="#000" stroke="none" />
<rect x="205.90" y="106.40" width="1.40" height="1.40" fill="#000" stroke="none" />
<rect x="341.81" y="119.19" width="1.80" height="1.80" fill="#000" stroke="none" />
<rect x="343.09" y="127.91" width="1.40" height="1.40" fill="#000" stroke="none" />
<rect x="573.66" y="446.31" width="1.60" height="1.60" fill="#000" stroke="none" />
<rect x="520.98" y="6.92" width="1.30" height="1.30" fill="#000" stroke="none" />
<rect x="1065.71" y="94.86" width="1.40" height="1.40" fill="#000" stroke="none" />
<rect x="969.32" y="153.84" width="1.30" height="1.30" fill="#000" stroke="none" />
<rect x="651.15" y="238.33" width="1.30" height="1.30" fill="#000" stroke="none" />
<rect x="779.19" y="244.74" width="1.30" height="1.30" fill="#000" stroke="none" />
<rect x="194.57" y="400.14" width="1.60" height="1.60" fill="#000" stroke="none" />
</g>
<rect x="1090" y="0" width="5" height="500" fill="#000"/>
</svg>
</body></html>
